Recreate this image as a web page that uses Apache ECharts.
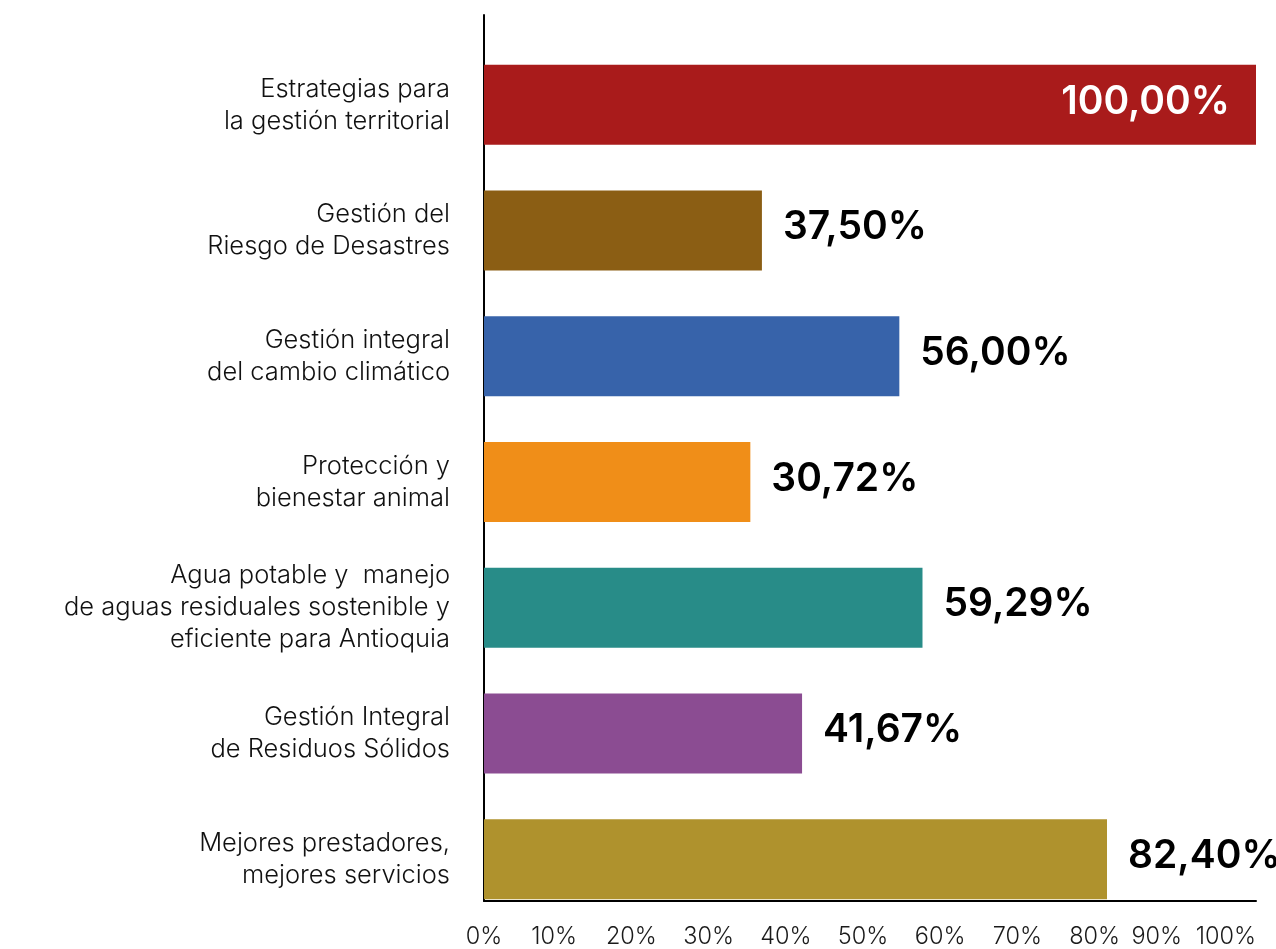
<!DOCTYPE html>
<html><head><meta charset="utf-8">
<script src="https://cdn.jsdelivr.net/npm/echarts@6/dist/echarts.min.js"></script>
<style>html,body{margin:0;padding:0;background:#fff}#c{width:1276px;height:949px}</style>
</head><body><div id="c"></div>
<script>
const categories = [
  'Estrategias para\nla gestión territorial',
  'Gestión del\nRiesgo de Desastres',
  'Gestión integral\ndel cambio climático',
  'Protección y\nbienestar animal',
  'Agua potable y  manejo\nde aguas residuales sostenible y\neficiente para Antioquia',
  'Gestión Integral\nde Residuos Sólidos',
  'Mejores prestadores,\nmejores servicios'
];
// bar lengths as drawn in the picture (percent of axis)
const barValues = [100, 36.0, 53.8, 34.5, 56.8, 41.2, 80.7];
// value labels as printed on the picture
const valueLabels = ['100,00%', '37,50%', '56,00%', '30,72%', '59,29%', '41,67%', '82,40%'];
const barColors = ['#A91B1B', '#8B5E14', '#3763AA', '#F08E18', '#288C88', '#8B4C92', '#AF922D'];
const axisMin = 0, axisMax = 100;
const tickLabels = ['0%', '10%', '20%', '30%', '40%', '50%', '60%', '70%', '80%', '90%', '100%'];

const chart = echarts.init(document.getElementById('c'), null, {renderer: 'canvas'});
const txtFont = 'Inter';
const last = tickLabels.length - 1;
const tickStyle = {fontFamily: txtFont, fontWeight: 300, fontSize: 23.5, color: '#1a1a1a'};
chart.setOption({
  animation: false,
  backgroundColor: '#ffffff',
  grid: [
    {left: 484, right: 20, top: 42, bottom: 27},
    {left: 484, right: 20, top: 15, bottom: 48}
  ],
  xAxis: [
    {gridIndex: 0, type: 'value', min: axisMin, max: axisMax, show: false},
    {gridIndex: 1, type: 'category', data: tickLabels, boundaryGap: false,
      axisLine: {show: true, lineStyle: {color: '#000', width: 2}},
      axisTick: {show: false}, splitLine: {show: false},
      axisLabel: Object.assign({interval: 0, margin: 24, alignMaxLabel: 'right',
        formatter: (v, i) => i === 0 ? '{z|' + v + '}' : (i === last - 1 ? '{n|' + v + '}' : (i === last ? v : '{s|' + v + '}')),
        rich: {
          z: Object.assign({}, tickStyle),
          s: Object.assign({padding: [0, 14, 0, 0]}, tickStyle),
          n: Object.assign({padding: [0, 44, 0, 0]}, tickStyle)
        }}, tickStyle)}
  ],
  yAxis: [
    {gridIndex: 0, type: 'category', data: categories, inverse: true,
      axisLine: {show: false}, axisTick: {show: false},
      axisLabel: {fontFamily: txtFont, fontWeight: 300, fontSize: 25.5, lineHeight: 32,
        color: '#111', margin: 34, align: 'right'}},
    {gridIndex: 1, type: 'value', min: 0, max: 1,
      axisLine: {show: true, lineStyle: {color: '#000', width: 2}},
      axisTick: {show: false}, axisLabel: {show: false}, splitLine: {show: false}}
  ],
  series: [{
    type: 'bar', xAxisIndex: 0, yAxisIndex: 0, barWidth: 80,
    data: barValues.map((v, i) => ({
      value: v,
      itemStyle: {color: barColors[i]},
      label: v >= axisMax ? {position: 'insideRight', color: '#ffffff', distance: 26} : undefined
    })),
    label: {show: true, position: 'right', distance: 21, offset: [0, -3],
      formatter: p => valueLabels[p.dataIndex],
      fontFamily: 'Inter', fontWeight: 600, fontSize: 39, color: '#000'}
  }]
});
</script></body></html>
